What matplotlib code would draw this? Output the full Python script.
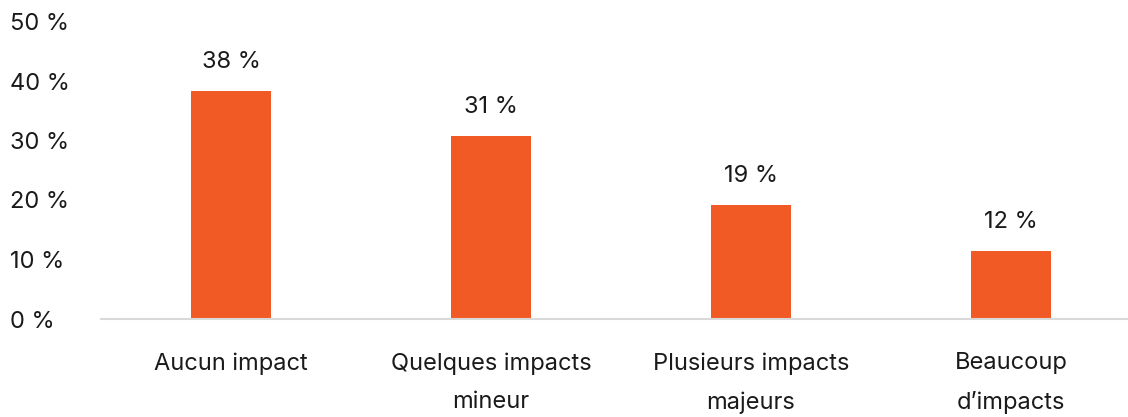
import numpy as np
import matplotlib.pyplot as plt

plt.rcParams['font.family'] = ['Inter', 'DejaVu Sans']

categories = ['Aucun impact', 'Quelques impacts\nmineur', 'Plusieurs impacts\nmajeurs', 'Beaucoup\nd\u2019impacts']
values = [38.3, 30.8, 19.2, 11.4]
labels = ['38 %', '31 %', '19 %', '12 %']
yticks = [0, 10, 20, 30, 40, 50]

fig = plt.figure(figsize=(11.28, 4.17), dpi=100)
ax = fig.add_axes([101 / 1128, 98 / 417, 1040 / 1128, 297.5 / 417])

x = np.arange(len(categories))
bars = ax.bar(x, values, width=0.31, color='#F15A24')

for b, lab in zip(bars, labels):
    ax.annotate(lab, (b.get_x() + b.get_width() / 2, b.get_height()),
                xytext=(0, 21), textcoords='offset points',
                ha='center', va='center', fontsize=17, color='#1a1a1a')

ax.set_xlim(-0.5, 3.5)
ax.set_ylim(0, 50)
ax.set_yticks(yticks)
ax.set_yticklabels([f'{v} %' for v in yticks])
ax.set_xticks(x)
ax.set_xticklabels(categories, linespacing=1.95)
ax.tick_params(axis='x', length=0, pad=24, labelsize=17, labelcolor='#1a1a1a')
ax.tick_params(axis='y', length=0, pad=0, labelsize=17, labelcolor='#1a1a1a')
for lab in ax.get_yticklabels():
    lab.set_horizontalalignment('left')
    lab.set_x(-91 / 1040)

for s in ['top', 'right', 'left']:
    ax.spines[s].set_visible(False)
ax.spines['bottom'].set_color('#d9d9d9')
ax.spines['bottom'].set_linewidth(1.5)

fig.savefig('out.png', dpi=100)
